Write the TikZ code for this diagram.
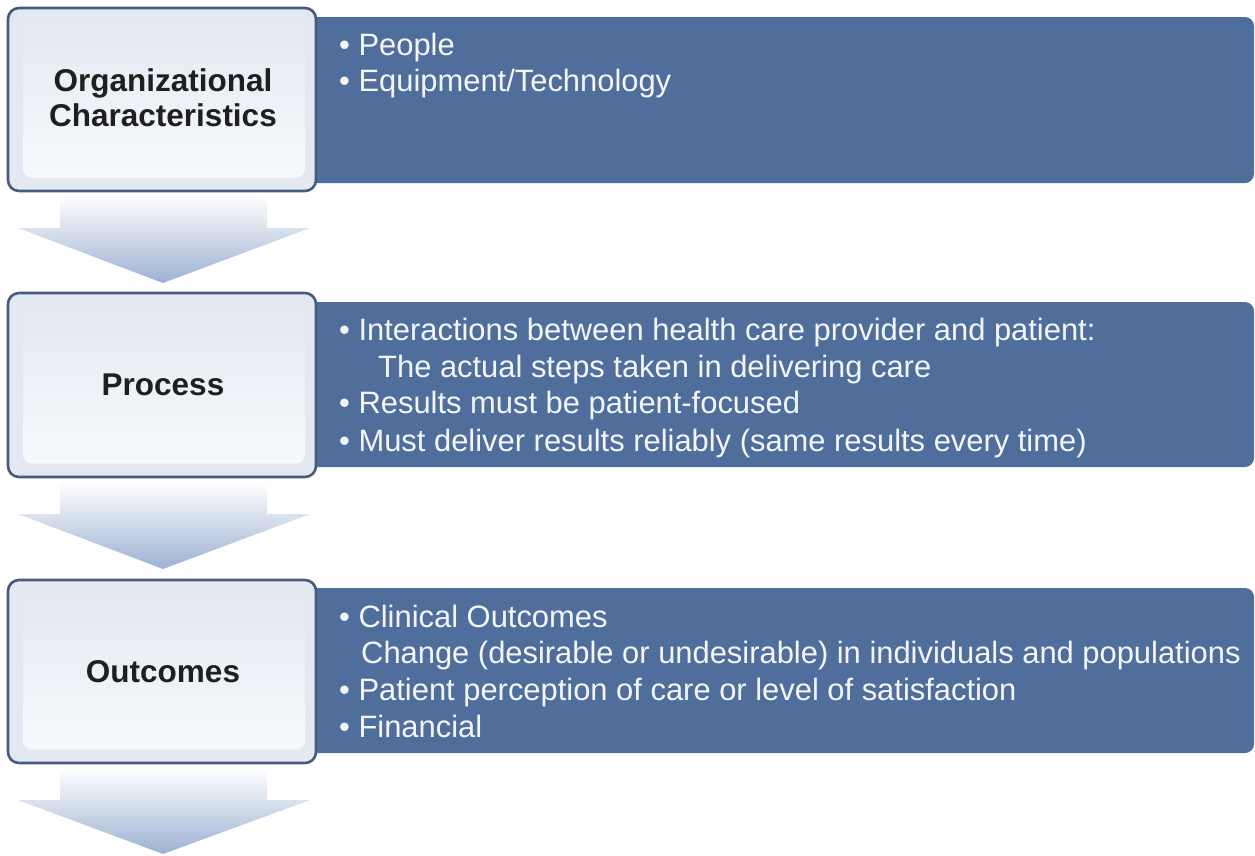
\documentclass[tikz,border=0pt]{standalone}
\usepackage{fontspec}
\setmainfont{Liberation Sans}
\definecolor{bluebox}{HTML}{506E9B}
\definecolor{lightborder}{HTML}{465B7E}
\definecolor{lightfill}{HTML}{E4E9F1}
\definecolor{paneltop}{HTML}{E4E9F2}
\definecolor{panelbot}{HTML}{F7F9FC}
\definecolor{arrowbot}{HTML}{9CB1D2}
\definecolor{bultext}{HTML}{F3F5F9}
\begin{document}
\begin{tikzpicture}[x=1pt,y=-1pt,
  bluerect/.style={draw=none, fill=bluebox, rounded corners=9pt, minimum width=949pt, inner sep=0pt},
  lightrect/.style={draw=lightborder, line width=2.6pt, fill=lightfill, rounded corners=11pt, minimum width=308pt, inner sep=0pt},
  panel/.style={draw=none, top color=paneltop, bottom color=panelbot, rounded corners=9pt, minimum width=282pt, inner sep=0pt},
  title/.style={font=\fontsize{31.5}{35}\selectfont\bfseries, text=black!88, align=center, inner sep=0pt},
  item/.style={font=\fontsize{30.9}{37}\selectfont, text=bultext, anchor=base west, inner sep=0pt},
  flowarrow/.style={draw=none, top color=white, bottom color=arrowbot}
]
\useasboundingbox (0,0) rectangle (1255,855);

% ---- Box 1 ----
\node[bluerect, minimum height=166pt] (b1) at (779.5,100) {};
\node[lightrect, minimum height=183pt] (l1) at (162,99.5) {};
\node[panel, minimum height=156pt] (p1) at (164,99.5) {};
\node[title] (t1) at (163,98) {Organizational\\Characteristics};
\node[item] (i11) at (339,55) {• People};
\node[item] (i12) at (339,91) {• Equipment/Technology};

% ---- Arrow 1 ----
\path[flowarrow] (60,195) -- (267,195) -- (267,228) -- (310,228) -- (163,283) -- (18,228) -- (60,228) -- cycle;

% ---- Box 2 ----
\node[bluerect, minimum height=165pt] (b2) at (779.5,384.5) {};
\node[lightrect, minimum height=184pt] (l2) at (162,385) {};
\node[panel, minimum height=157pt] (p2) at (164,385) {};
\node[title] (t2) at (163,385) {Process};
\node[item] (i21) at (339,340) {• Interactions between health care provider and patient:};
\node[item] (i22) at (378,377) {The actual steps taken in delivering care};
\node[item] (i23) at (339,413) {• Results must be patient-focused};
\node[item] (i24) at (339,451) {• Must deliver results reliably (same results every time)};

% ---- Arrow 2 ----
\path[flowarrow] (60,482) -- (267,482) -- (267,514) -- (310,514) -- (163,569) -- (18,514) -- (60,514) -- cycle;

% ---- Box 3 ----
\node[bluerect, minimum height=165pt] (b3) at (779.5,670.5) {};
\node[lightrect, minimum height=183pt] (l3) at (162,671.5) {};
\node[panel, minimum height=156pt] (p3) at (164,671.5) {};
\node[title] (t3) at (163,671.5) {Outcomes};
\node[item] (i31) at (339,627) {• Clinical Outcomes};
\node[item] (i32) at (361,663) {Change (desirable or undesirable) in individuals and populations};
\node[item] (i33) at (339,700) {• Patient perception of care or level of satisfaction};
\node[item] (i34) at (339,737) {• Financial};

% ---- Arrow 3 ----
\path[flowarrow] (60,768) -- (267,768) -- (267,800) -- (310,800) -- (163,854) -- (18,800) -- (60,800) -- cycle;
\end{tikzpicture}
\end{document}
